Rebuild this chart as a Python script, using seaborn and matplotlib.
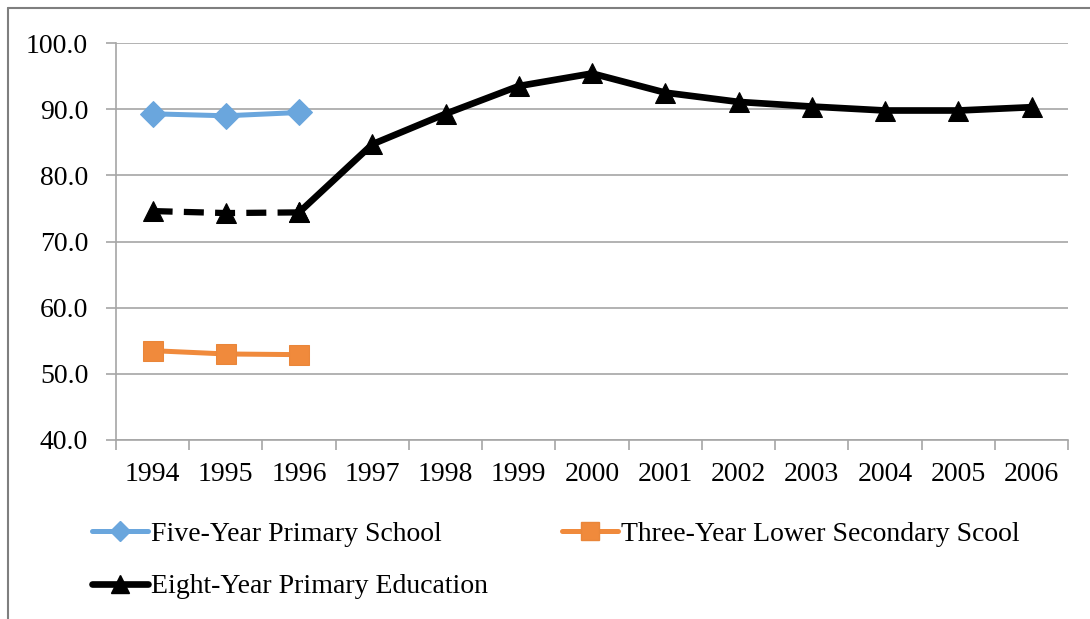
import matplotlib
matplotlib.use("Agg")
import matplotlib.pyplot as plt
from matplotlib.lines import Line2D
import numpy as np
import pandas as pd
import seaborn as sns

years = ["1994", "1995", "1996", "1997", "1998", "1999", "2000",
         "2001", "2002", "2003", "2004", "2005", "2006"]
five_year = [89.3, 89.0, 89.5]
three_year = [53.5, 53.0, 52.9]
eight_year = [74.6, 74.3, 74.4, 84.7, 89.3, 93.5, 95.4,
              92.5, 91.1, 90.4, 89.8, 89.8, 90.3]

sns.set_theme(style="white")
plt.rcParams["font.family"] = ["Liberation Serif", "DejaVu Serif"]
plt.rcParams["text.color"] = "black"

fig = plt.figure(figsize=(10.9, 6.19), dpi=100)
ax = fig.add_axes([0.1064, 0.2892, 0.8736, 0.6413])

x_all = np.arange(len(years))
df_five = pd.DataFrame({"x": x_all[:3], "v": five_year})
df_three = pd.DataFrame({"x": x_all[:3], "v": three_year})
df_eight_a = pd.DataFrame({"x": x_all[:3], "v": eight_year[:3]})
df_eight_b = pd.DataFrame({"x": x_all[2:], "v": eight_year[2:]})

blue = "#6AA6DD"
orange = "#F08A3C"

sns.lineplot(data=df_five, x="x", y="v", ax=ax, color=blue, lw=3.6,
             marker="D", markersize=13, markeredgecolor=blue, zorder=3)
sns.lineplot(data=df_three, x="x", y="v", ax=ax, color=orange, lw=3.6,
             marker="s", markersize=15, markeredgecolor="#E9863A", zorder=3)
sns.lineplot(data=df_eight_a, x="x", y="v", ax=ax, color="black", lw=4.5,
             linestyle=(0, (3.2, 1.8)), marker="^", markersize=15,
             markeredgecolor="black", zorder=3)
sns.lineplot(data=df_eight_b, x="x", y="v", ax=ax, color="black", lw=4.8,
             marker="^", markersize=15, markeredgecolor="black", zorder=3)

ax.set_xlim(-0.5, len(years) - 0.5)
ax.set_ylim(40, 100)
ax.set_yticks(np.arange(40, 101, 10))
ax.set_yticklabels([f"{v:.1f}" for v in np.arange(40, 101, 10)])
ax.set_xticks(x_all)
ax.set_xticklabels(years)
ax.set_xticks(np.arange(-0.5, len(years)), minor=True)
ax.set_xlabel("")
ax.set_ylabel("")

ax.grid(axis="y", color="#A6A6A6", lw=1.2)
ax.set_axisbelow(True)
for side in ["top", "right"]:
    ax.spines[side].set_visible(False)
for side in ["left", "bottom"]:
    ax.spines[side].set_visible(True)
    ax.spines[side].set_color("#A6A6A6")
    ax.spines[side].set_linewidth(1.2)

ax.tick_params(axis="y", which="major", left=True, length=7, width=1.2,
               color="#A6A6A6", labelsize=20, pad=13, labelcolor="black")
ax.tick_params(axis="x", which="major", bottom=False, labelsize=20, pad=10,
               labelcolor="black")
ax.tick_params(axis="x", which="minor", bottom=True, length=7, width=1.2,
               color="#A6A6A6")

handles = [
    Line2D([], [], color=blue, lw=3.6, marker="D", markersize=10,
           markeredgecolor=blue, solid_capstyle="round"),
    Line2D([], [], color="black", lw=4.8, marker="^", markersize=13,
           solid_capstyle="round"),
    Line2D([], [], color=orange, lw=3.6, marker="s", markersize=13,
           markeredgecolor="#E9863A", solid_capstyle="round"),
]
labels = ["Five-Year Primary School", "Eight-Year Primary Education",
          "Three-Year Lower Secondary Scool"]
fig.legend(handles, labels, loc="upper left", bbox_to_anchor=(0.0844, 0.1575),
           ncol=2, frameon=False, fontsize=20, handlelength=2.0,
           handletextpad=0.12, columnspacing=2.68, labelspacing=0.97,
           borderaxespad=0, borderpad=0, labelcolor="black")

# outer chart border
fig.add_artist(Line2D([8 / 1090, 8 / 1090], [0, 1 - 8 / 619],
                      transform=fig.transFigure, color="#7F7F7F", lw=1.5))
fig.add_artist(Line2D([8 / 1090, 1], [1 - 8 / 619, 1 - 8 / 619],
                      transform=fig.transFigure, color="#7F7F7F", lw=1.5))

fig.savefig("out.png", dpi=100)
